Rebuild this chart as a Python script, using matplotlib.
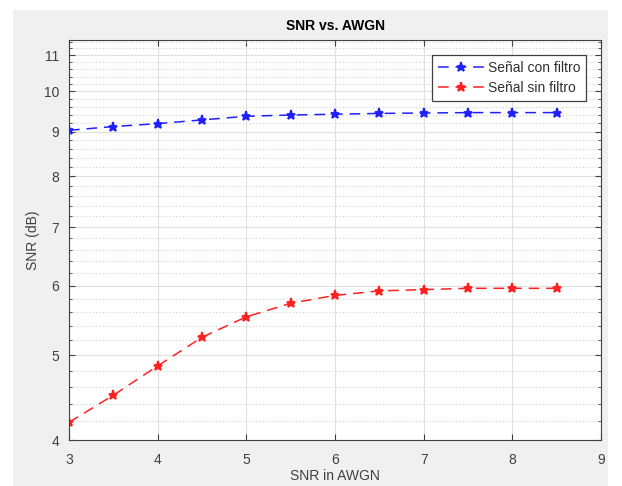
import matplotlib.pyplot as plt
from matplotlib.patches import Rectangle
from matplotlib.ticker import FixedLocator, NullFormatter

plt.rcParams['font.family'] = ['Liberation Sans', 'DejaVu Sans']

# datos
snr_awgn = [3, 3.5, 4, 4.5, 5, 5.5, 6, 6.5, 7, 7.5, 8, 8.5]
con_filtro = [9.03, 9.12, 9.19, 9.28, 9.37, 9.40, 9.42, 9.44, 9.45, 9.46, 9.46, 9.46]
sin_filtro = [4.19, 4.50, 4.86, 5.24, 5.53, 5.73, 5.85, 5.92, 5.94, 5.96, 5.96, 5.96]

x_ticks = [3, 4, 5, 6, 7, 8, 9]
y_ticks = [4, 5, 6, 7, 8, 9, 10, 11]
y_minor = [4.2, 4.4, 4.6, 4.8, 5.2, 5.4, 5.6, 5.8, 6.2, 6.4, 6.6, 6.8,
           7.2, 7.4, 7.6, 7.8, 8.2, 8.4, 8.6, 8.8, 9.2, 9.4, 9.6, 9.8,
           10.2, 10.4, 10.6, 10.8, 11.2, 11.4]

fig = plt.figure(figsize=(6.22, 4.86), dpi=100, facecolor='white')
# fondo gris tipo MATLAB
fig.patches.append(Rectangle((13 / 622, 0), (608 - 13) / 622, 1 - 10 / 486,
                             transform=fig.transFigure, facecolor='#f0f0f0',
                             edgecolor='none', zorder=-10))

ax = fig.add_axes([69 / 622, 1 - 440 / 486, (601 - 69) / 622, 400 / 486])
ax.set_facecolor('white')

estilo = dict(linestyle=(0, (7, 4.5)), marker='*', markersize=6.5,
              markeredgewidth=1.3, linewidth=1.1)
ax.semilogy(snr_awgn, con_filtro, color='#2020ff', label='Señal con filtro', **estilo)
ax.semilogy(snr_awgn, sin_filtro, color='#ff2020', label='Señal sin filtro', **estilo)

ax.set_xlim(3, 9)
ax.set_ylim(4, 11.45)
ax.set_xticks(x_ticks)
ax.set_xticklabels([str(t) for t in x_ticks])
ax.yaxis.set_major_locator(FixedLocator(y_ticks))
ax.set_yticklabels([str(t) for t in y_ticks])
ax.yaxis.set_minor_locator(FixedLocator(y_minor))
ax.yaxis.set_minor_formatter(NullFormatter())

ax.grid(True, which='major', color='#e0e0e0', linewidth=0.8, linestyle='-')
ax.grid(True, which='minor', axis='y', color='#cfcfcf', linewidth=0.8, linestyle=(0, (1, 2)))

ax.tick_params(which='both', direction='in', top=True, right=True,
               colors='#404040', labelsize=10)
ax.tick_params(which='major', length=4)
ax.tick_params(which='minor', length=2)
ax.tick_params(axis='y', pad=7)
ax.tick_params(axis='x', pad=9)
for s in ax.spines.values():
    s.set_color('#404040')
    s.set_linewidth(0.8)

ax.set_title('SNR vs. AWGN', fontsize=10, fontweight='bold', color='black', pad=7)
ax.set_xlabel('SNR in AWGN', fontsize=10, color='#404040', labelpad=2)
ax.set_ylabel('SNR (dB)', fontsize=10, color='#404040', labelpad=3)

leg = ax.legend(loc='upper right', fontsize=10, fancybox=False, framealpha=1,
                edgecolor='#404040', borderaxespad=1.1, handlelength=3.4,
                handletextpad=0.2, borderpad=0.4, labelspacing=0.45)
leg.get_frame().set_linewidth(0.9)
for t in leg.get_texts():
    t.set_color('#303030')

fig.savefig('out.png', dpi=100, facecolor='white')
